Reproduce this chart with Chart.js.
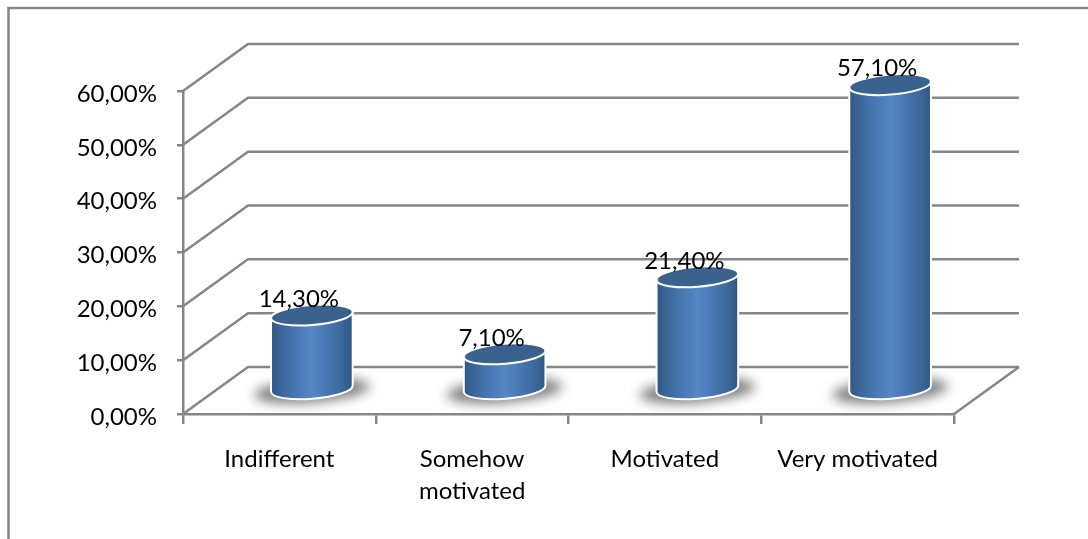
<!DOCTYPE html>
<html>
<head>
<meta charset="utf-8">
<script src="https://cdn.jsdelivr.net/npm/chart.js@4/dist/chart.umd.js"></script>
<style>
body { margin: 0; background: #fff; }
canvas { display: block; }
</style>
</head>
<body>
<canvas id="chart" width="1088" height="539"></canvas>
<script>
const categories = ["Indifferent", ["Somehow", "motivated"], "Motivated", "Very motivated"];
const shares = [14.3, 7.1, 21.4, 57.1];

const GRID = "#868686";
const DEPTH_X = 65;
const DEPTH_Y = 47;
const FONT_SIZE = 24;
const FONT_FAMILY = "Lato, sans-serif";
const TILT = -0.08;

function percent(value) {
    return value.toFixed(2).replace(".", ",") + "%";
}

// cylinder standing in the middle of the floor depth
class CylinderBar extends Chart.BarElement {
    draw(ctx) {
        const {x, y, base, width} = this.getProps(["x", "y", "base", "width"]);
        const cx = x + DEPTH_X / 2;
        const top = y - 22;
        const bottom = base - 24;
        const rx = width / 2;
        const ry = 10;

        ctx.save();
        ctx.filter = "blur(6px)";
        ctx.fillStyle = "#808080";
        ctx.beginPath();
        ctx.ellipse(cx, bottom + 2, rx + 17, ry + 2, TILT, 0, Math.PI * 2);
        ctx.fill();
        ctx.restore();

        const side = ctx.createLinearGradient(cx - rx, 0, cx + rx, 0);
        side.addColorStop(0, "#2f5781");
        side.addColorStop(0.12, "#3b6699");
        side.addColorStop(0.5, "#5587c8");
        side.addColorStop(0.88, "#3b6699");
        side.addColorStop(1, "#2f5781");

        ctx.save();
        ctx.beginPath();
        ctx.ellipse(cx, bottom, rx, ry, TILT, 0, Math.PI);
        ctx.ellipse(cx, top, rx, ry, TILT, Math.PI, Math.PI * 2);
        ctx.closePath();
        ctx.fillStyle = side;
        ctx.fill();
        ctx.strokeStyle = "#ffffff";
        ctx.lineWidth = 2;
        ctx.stroke();

        ctx.beginPath();
        ctx.ellipse(cx, top, rx, ry, TILT, 0, Math.PI * 2);
        ctx.fillStyle = "#3a628f";
        ctx.fill();
        ctx.stroke();
        ctx.restore();
    }
}
CylinderBar.id = "cylinderBar";

class CylinderController extends Chart.BarController {}
CylinderController.id = "cylinder";
CylinderController.defaults = Object.assign({}, Chart.BarController.defaults, {dataElementType: "cylinderBar"});
CylinderController.overrides = Chart.BarController.overrides;

Chart.register(CylinderBar, CylinderController);

// the frame only shows on its top and left side, the rest is cropped away
let framePlugin = {
    id: "frame",
    beforeDraw: (chart) => {
        const {ctx, width, height} = chart;
        ctx.save();
        ctx.strokeStyle = GRID;
        ctx.lineWidth = 2.5;
        ctx.beginPath();
        ctx.moveTo(8.5, height);
        ctx.lineTo(8.5, 8);
        ctx.lineTo(width, 8);
        ctx.stroke();
        ctx.restore();
    }
}

let wallsPlugin = {
    id: "walls",
    beforeDatasetsDraw: (chart) => {
        const {ctx, chartArea: {left, right, bottom}, scales: {y}} = chart;
        ctx.save();
        ctx.strokeStyle = GRID;
        ctx.lineWidth = 2.5;
        y.ticks.forEach((tick) => {
            const py = y.getPixelForValue(tick.value);
            ctx.beginPath();
            ctx.moveTo(left, py);
            ctx.lineTo(left + DEPTH_X, py - DEPTH_Y);
            ctx.lineTo(right + DEPTH_X, py - DEPTH_Y);
            ctx.stroke();
        });
        ctx.beginPath();
        ctx.moveTo(right, bottom);
        ctx.lineTo(right + DEPTH_X, bottom - DEPTH_Y);
        ctx.stroke();
        ctx.restore();
    }
}

let valueLabelsPlugin = {
    id: "valueLabels",
    afterDatasetsDraw: (chart) => {
        const {ctx} = chart;
        const bars = chart.getDatasetMeta(0).data;
        ctx.save();
        ctx.font = `${FONT_SIZE}px ${FONT_FAMILY}`;
        ctx.fillStyle = "#000000";
        ctx.textAlign = "center";
        ctx.textBaseline = "middle";
        bars.forEach((bar, index) => {
            ctx.fillText(percent(shares[index]), bar.x + DEPTH_X / 2 - 13, bar.y - 38);
        });
        ctx.restore();
    }
}

let scalesOptions = {
    x: {
        afterFit: (scale) => { scale.height = 125; },
        border: {color: GRID, width: 2.5},
        grid: {color: GRID, lineWidth: 2.5, drawOnChartArea: false, tickLength: 10},
        ticks: {
            color: "#000000",
            font: {family: FONT_FAMILY, size: FONT_SIZE, lineHeight: 1.34},
            padding: 19,
            maxRotation: 0
        }
    },
    y: {
        min: 0,
        max: 60,
        afterFit: (scale) => { scale.width = 183; },
        border: {color: GRID, width: 2.5},
        grid: {color: GRID, lineWidth: 2.5, drawOnChartArea: false, tickLength: 6},
        ticks: {
            stepSize: 10,
            color: "#000000",
            font: {family: FONT_FAMILY, size: FONT_SIZE},
            padding: 20,
            labelOffset: 3,
            callback: (value) => percent(value)
        }
    }
}

new Chart(document.getElementById("chart"), {
    type: "cylinder",
    plugins: [framePlugin, wallsPlugin, valueLabelsPlugin],
    data: {
        labels: categories,
        datasets: [{
            data: shares,
            clip: false,
            categoryPercentage: 1,
            barPercentage: 0.425
        }]
    },
    options: {
        responsive: false,
        animation: false,
        layout: {padding: {top: 91, right: 134, bottom: 0, left: 0}},
        plugins: {legend: {display: false}, tooltip: {enabled: false}},
        scales: scalesOptions
    }
});
</script>
</body>
</html>
